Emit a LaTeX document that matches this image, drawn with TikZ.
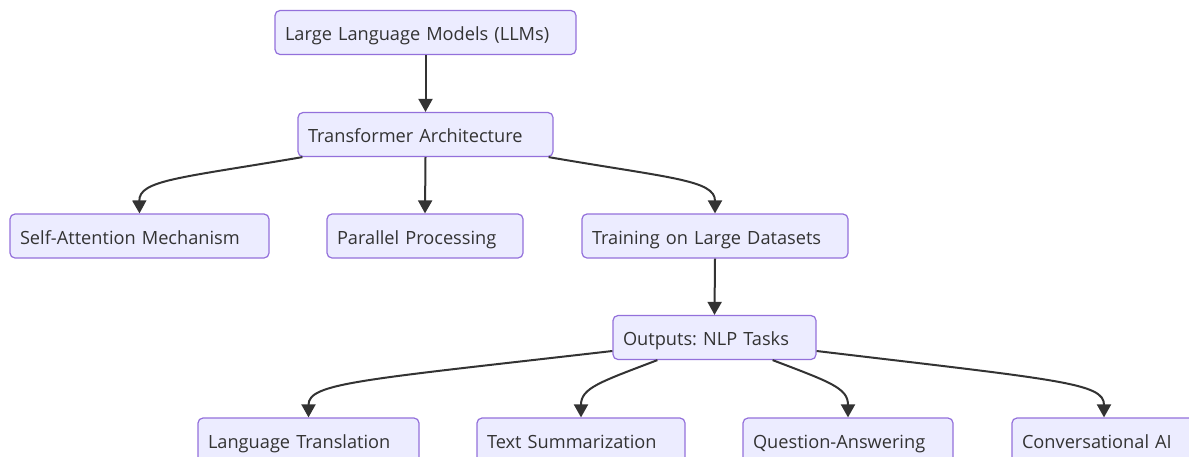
\documentclass[tikz,border=0pt]{standalone}
\usepackage{fontspec}
\setmainfont{Open Sans}
\usetikzlibrary{arrows.meta,calc}
\definecolor{nodefill}{HTML}{ECECFF}
\definecolor{nodeline}{HTML}{9370DB}
\definecolor{edgecol}{HTML}{333333}
\frenchspacing
\tikzset{
  box/.style={draw=nodeline, fill=nodefill, line width=1.2pt, rounded corners=5pt,
    inner xsep=10pt, inner ysep=0pt, minimum height=44pt, align=left,
    text height=16pt, text depth=0pt,
    text=edgecol, font=\fontsize{18.2}{22}\selectfont},
  edge/.style={draw=edgecol, line width=2pt, -{Triangle[length=13pt,width=14pt]}}
}
\begin{document}
\begin{tikzpicture}[x=1pt,y=-1pt]
\useasboundingbox (0,0) rectangle (1189,456);
\clip (0,0) rectangle (1189,456);
\node[box, text width=281pt] (L) at (425.5,32.5) {Large Language Models (LLMs)};
\node[box, text width=235pt] (T) at (425.5,134.5) {Transformer Architecture};
\node[box, text width=239pt] (SA) at (139.5,236) {Self-Attention Mechanism};
\node[box, text width=176pt] (PP) at (425,236) {Parallel Processing};
\node[box, text width=246pt] (TR) at (715,236) {Training on Large Datasets};
\node[box, text width=183pt] (O) at (714.5,337.5) {Outputs: NLP Tasks};
\node[box, text width=201pt] (LT) at (308.5,440) {Language Translation};
\node[box, text width=188pt] (TS) at (581,440) {Text Summarization};
\node[box, text width=190pt] (QA) at (848,440) {Question-Answering};
\node[box, text width=164pt] (CA) at (1104,440) {Conversational AI};

\draw[edge] (L.south) -- (T.north);
\draw[edge] (T.south) -- (PP.north);
\draw[edge] (TR.south) -- (O.north);
\draw[edge] ($(T.south west)+(5,0)$) .. controls (180,178) and (139,180) .. (SA.north);
\draw[edge] ($(T.south east)+(-5,0)$) .. controls (670,178) and (715,180) .. (TR.north);
\draw[edge] ($(O.west)+(0,13.5)$) .. controls (360,380) and (308.5,383) .. (LT.north);
\draw[edge] ($(O.south west)+(45,0)$) .. controls (600,382) and (581,388) .. (TS.north);
\draw[edge] ($(O.south east)+(-44,0)$) .. controls (830,382) and (848,388) .. (QA.north);
\draw[edge] ($(O.east)+(0,13.5)$) .. controls (1060,380) and (1104,383) .. (CA.north);
\end{tikzpicture}
\end{document}
